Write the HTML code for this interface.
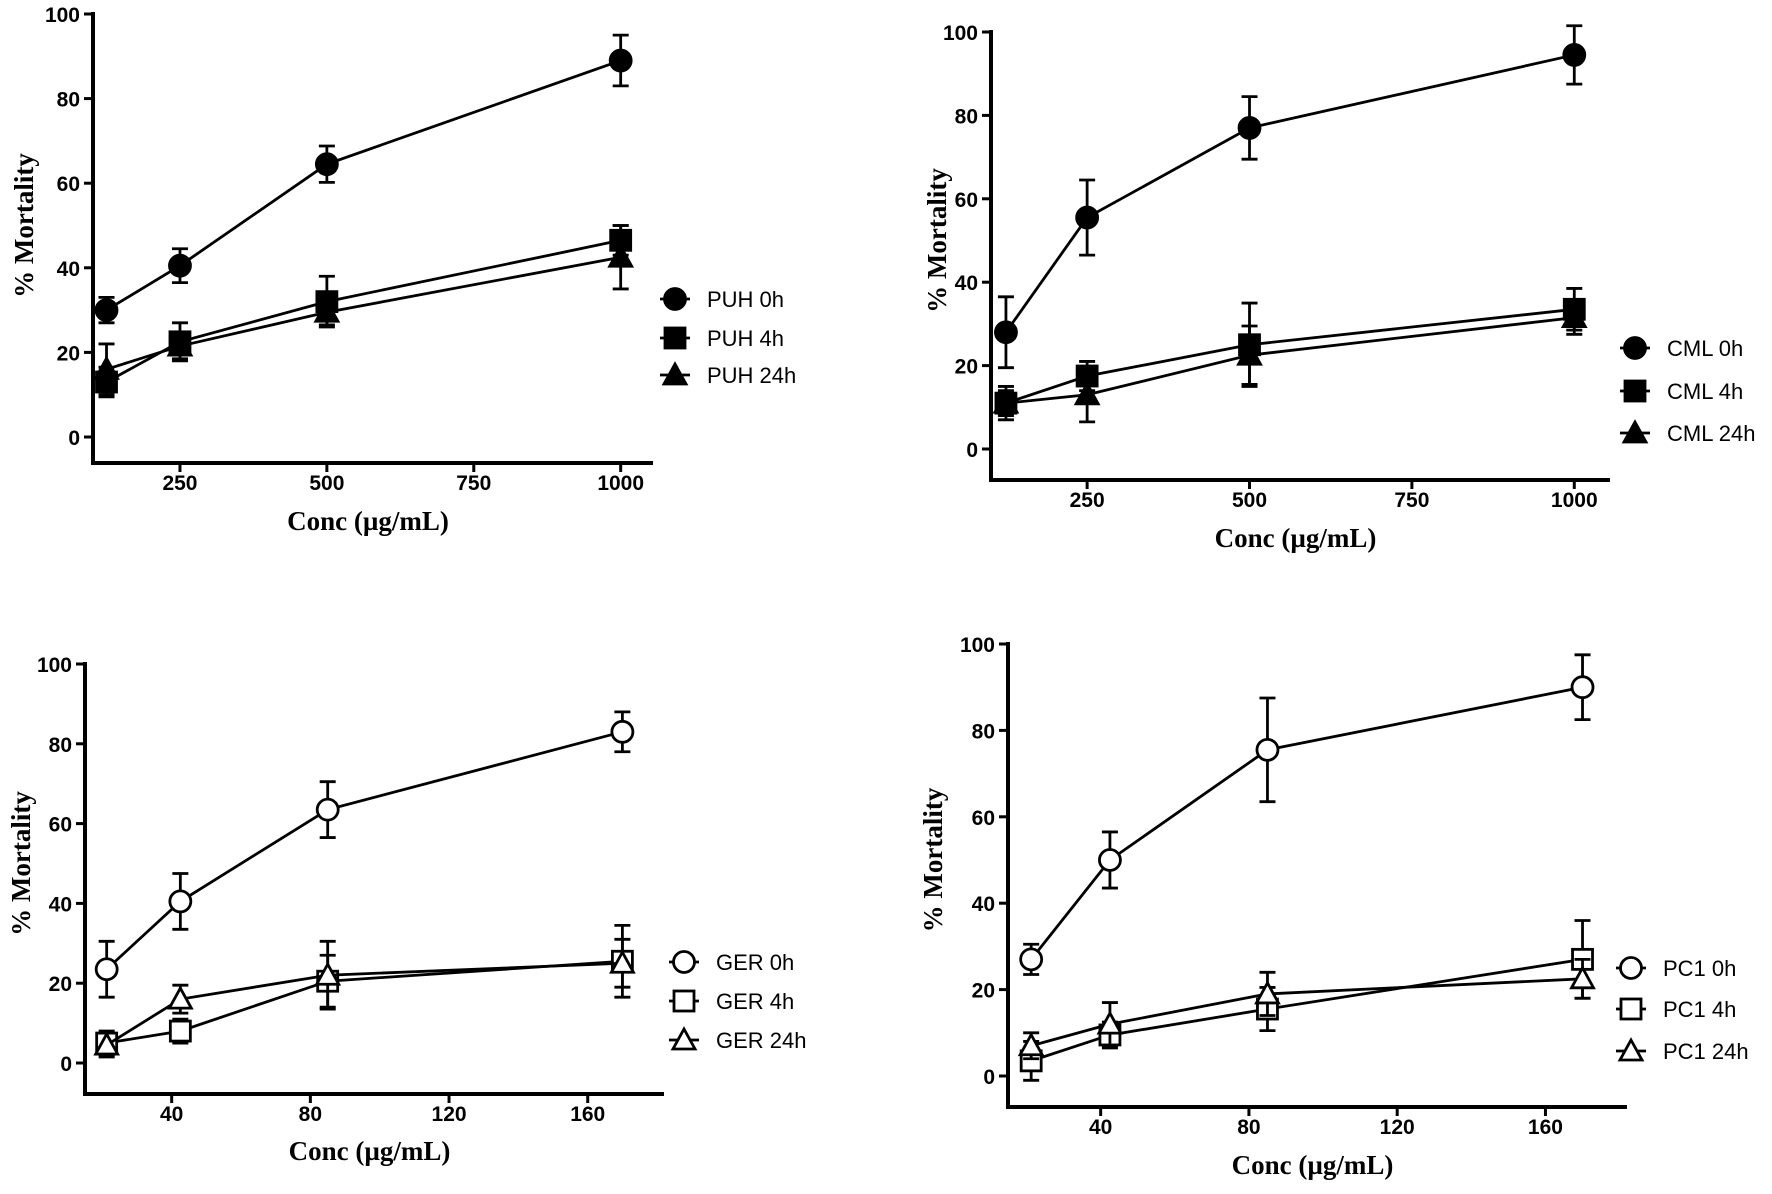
<!DOCTYPE html>
<html><head><meta charset="utf-8"><style>
html,body{margin:0;padding:0;background:#fff;}
svg{display:block;}
.tick{font-family:"Liberation Sans Narrow","Liberation Sans",sans-serif;font-weight:bold;font-size:21px;fill:#000;}
.title{font-family:"Liberation Serif",serif;font-weight:bold;font-size:27px;fill:#000;}
.leg{font-family:"Liberation Sans",sans-serif;font-size:22px;fill:#000;}
</style></head><body>
<svg id="chart" width="1772" height="1194" viewBox="0 0 1772 1194" xmlns="http://www.w3.org/2000/svg"></svg>
<script>
// ---- data ----
const xTicksA = [250, 500, 750, 1000];
const xTicksB = [40, 80, 120, 160];
const yTicks = [0, 20, 40, 60, 80, 100];
const concA = [125, 250, 500, 1000];
const concB = [21.25, 42.5, 85, 170];

const puh0 = [30, 40.5, 64.5, 89];       const puh0Err = [3, 4, 4.3, 6];
const puh4 = [13, 22.5, 32, 46.5];       const puh4Err = [3.5, 4.5, 6, 3.5];
const puh24 = [16, 21.5, 29.5, 42.5];    const puh24Err = [6, 3, 3, 7.5];

const cml0 = [28, 55.5, 77, 94.5];       const cml0Err = [8.5, 9, 7.5, 7];
const cml4 = [11, 17.5, 25, 33.5];       const cml4Err = [4, 3.5, 10, 5];
const cml24 = [11, 13, 22.5, 31.5];      const cml24Err = [3, 6.5, 7, 4];

const ger0 = [23.5, 40.5, 63.5, 83];     const ger0Err = [7, 7, 7, 5];
const ger4 = [5, 8, 20.5, 25.5];         const ger4Err = [3, 3, 6.5, 9];
const ger24 = [4.5, 16, 22, 25];         const ger24Err = [3, 3.5, 8.5, 6];

const pc10 = [27, 50, 75.5, 90];         const pc10Err = [3.5, 6.5, 12, 7.5];
const pc14 = [3.5, 9.5, 15.5, 27];       const pc14Err = [4.5, 3, 5, 9];
const pc124 = [7, 12, 19, 22.5];         const pc124Err = [3, 5, 5, 4.5];

const NS = "http://www.w3.org/2000/svg";
const svg = document.getElementById('chart');
function mk(tag, attrs, parent){const e=document.createElementNS(NS,tag);for(const k in attrs)e.setAttribute(k,attrs[k]);(parent||svg).appendChild(e);return e;}

const panels = [
 {id:'puh', ax:93, y100:14, y0:437, xaxisY:463, right:653, xmin:102, xmax:1055, xt:xTicksA, conc:concA, filled:true,
  series:[['PUH 0h',puh0,puh0Err,'circle'],['PUH 4h',puh4,puh4Err,'square'],['PUH 24h',puh24,puh24Err,'triangle']],
  legX:675, legY:[299,338,375], titleX:24, tickLabY:490, xTitleY:530},
 {id:'cml', ax:991, y100:32, y0:449, xaxisY:480, right:1610, xmin:102, xmax:1055, xt:xTicksA, conc:concA, filled:true,
  series:[['CML 0h',cml0,cml0Err,'circle'],['CML 4h',cml4,cml4Err,'square'],['CML 24h',cml24,cml24Err,'triangle']],
  legX:1635, legY:[348,391,433], titleX:937, tickLabY:507, xTitleY:547},
 {id:'ger', ax:85, y100:664, y0:1063, xaxisY:1094, right:664, xmin:15, xmax:182, xt:xTicksB, conc:concB, filled:false,
  series:[['GER 0h',ger0,ger0Err,'circle'],['GER 4h',ger4,ger4Err,'square'],['GER 24h',ger24,ger24Err,'triangle']],
  legX:684, legY:[962,1001,1040], titleX:21, tickLabY:1121, xTitleY:1160},
 {id:'pc1', ax:1008, y100:644, y0:1076, xaxisY:1107, right:1627, xmin:15, xmax:182, xt:xTicksB, conc:concB, filled:false,
  series:[['PC1 0h',pc10,pc10Err,'circle'],['PC1 4h',pc14,pc14Err,'square'],['PC1 24h',pc124,pc124Err,'triangle']],
  legX:1631, legY:[968,1009,1051], titleX:933, tickLabY:1134, xTitleY:1174}
];

function marker(g, shape, cx, cy, filled){
  const fill = filled ? '#000' : '#fff';
  let el;
  if(shape==='circle') el = mk('circle',{cx:cx,cy:cy,r:10.5,fill:fill,stroke:'#000','stroke-width':2.8},g);
  else if(shape==='square') el = mk('rect',{x:cx-10,y:cy-10,width:20,height:20,fill:fill,stroke:'#000','stroke-width':2.8},g);
  else el = mk('polygon',{points:`${cx},${cy-11} ${cx+11},${cy+9} ${cx-11},${cy+9}`,fill:fill,stroke:'#000','stroke-width':2.8},g);
  return el;
}

panels.forEach(p=>{
  const g = mk('g',{});
  
  
  const left = p.ax;
  const xs = v => left + (v - p.xmin)/(p.xmax - p.xmin)*(p.right - left);
  const ys = v => p.y0 - v/100*(p.y0 - p.y100);
  const yaxis = mk('line',{x1:p.ax,y1:p.y100-2,x2:p.ax,y2:p.xaxisY+2,stroke:'#000','stroke-width':4},g);
  
  
  const xaxis = mk('line',{x1:p.ax-2,y1:p.xaxisY,x2:p.right,y2:p.xaxisY,stroke:'#000','stroke-width':4},g);
  
  
  yTicks.forEach(t=>{
    mk('line',{x1:p.ax-9,y1:ys(t),x2:p.ax,y2:ys(t),stroke:'#000','stroke-width':3},g);
    const tx = mk('text',{x:p.ax-13,y:ys(t)+8,'text-anchor':'end',class:'tick'},g);
    tx.textContent = t;
    
    
  });
  p.xt.forEach(t=>{
    mk('line',{x1:xs(t),y1:p.xaxisY,x2:xs(t),y2:p.xaxisY+9,stroke:'#000','stroke-width':3},g);
    const tx = mk('text',{x:xs(t),y:p.tickLabY,'text-anchor':'middle',class:'tick'},g);
    tx.textContent = t;
    
    
  });
  const xt = mk('text',{x:(p.ax+p.right)/2 - 5,y:p.xTitleY,'text-anchor':'middle',class:'title'},g);
  xt.textContent = 'Conc (µg/mL)';
  
  
  const cy = (p.y100+p.y0)/2;
  const yt = mk('text',{x:p.titleX,y:cy,'text-anchor':'middle',class:'title',transform:`rotate(-90 ${p.titleX} ${cy})`,dy:9},g);
  yt.textContent = '% Mortality';
  
  

  p.series.forEach((s,si)=>{
    const [name, vals, errs, shape] = s;
    const sg = mk('g',{},g);
    
    
    const pts = vals.map((v,i)=>`${xs(p.conc[i])},${ys(v)}`).join(' ');
    mk('polyline',{points:pts,fill:'none',stroke:'#000','stroke-width':2.8},sg);
    vals.forEach((v,i)=>{
      const x = xs(p.conc[i]);
      mk('line',{x1:x,y1:ys(v-errs[i]),x2:x,y2:ys(v+errs[i]),stroke:'#000','stroke-width':2.8},sg);
      mk('line',{x1:x-8,y1:ys(v+errs[i]),x2:x+8,y2:ys(v+errs[i]),stroke:'#000','stroke-width':2.8},sg);
      mk('line',{x1:x-8,y1:ys(v-errs[i]),x2:x+8,y2:ys(v-errs[i]),stroke:'#000','stroke-width':2.8},sg);
    });
    vals.forEach((v,i)=>{
      const m = marker(sg, shape, xs(p.conc[i]), ys(v), p.filled);
      
      
    });
    const lg = mk('g',{},g);
    
    
    const ly = p.legY[si];
    mk('line',{x1:p.legX-15,y1:ly,x2:p.legX+15,y2:ly,stroke:'#000','stroke-width':2.8},lg);
    marker(lg, shape, p.legX, ly, p.filled);
    const lt = mk('text',{x:p.legX+32,y:ly+8,class:'leg'},lg);
    lt.textContent = name;
  });
});
</script>
</body></html>
